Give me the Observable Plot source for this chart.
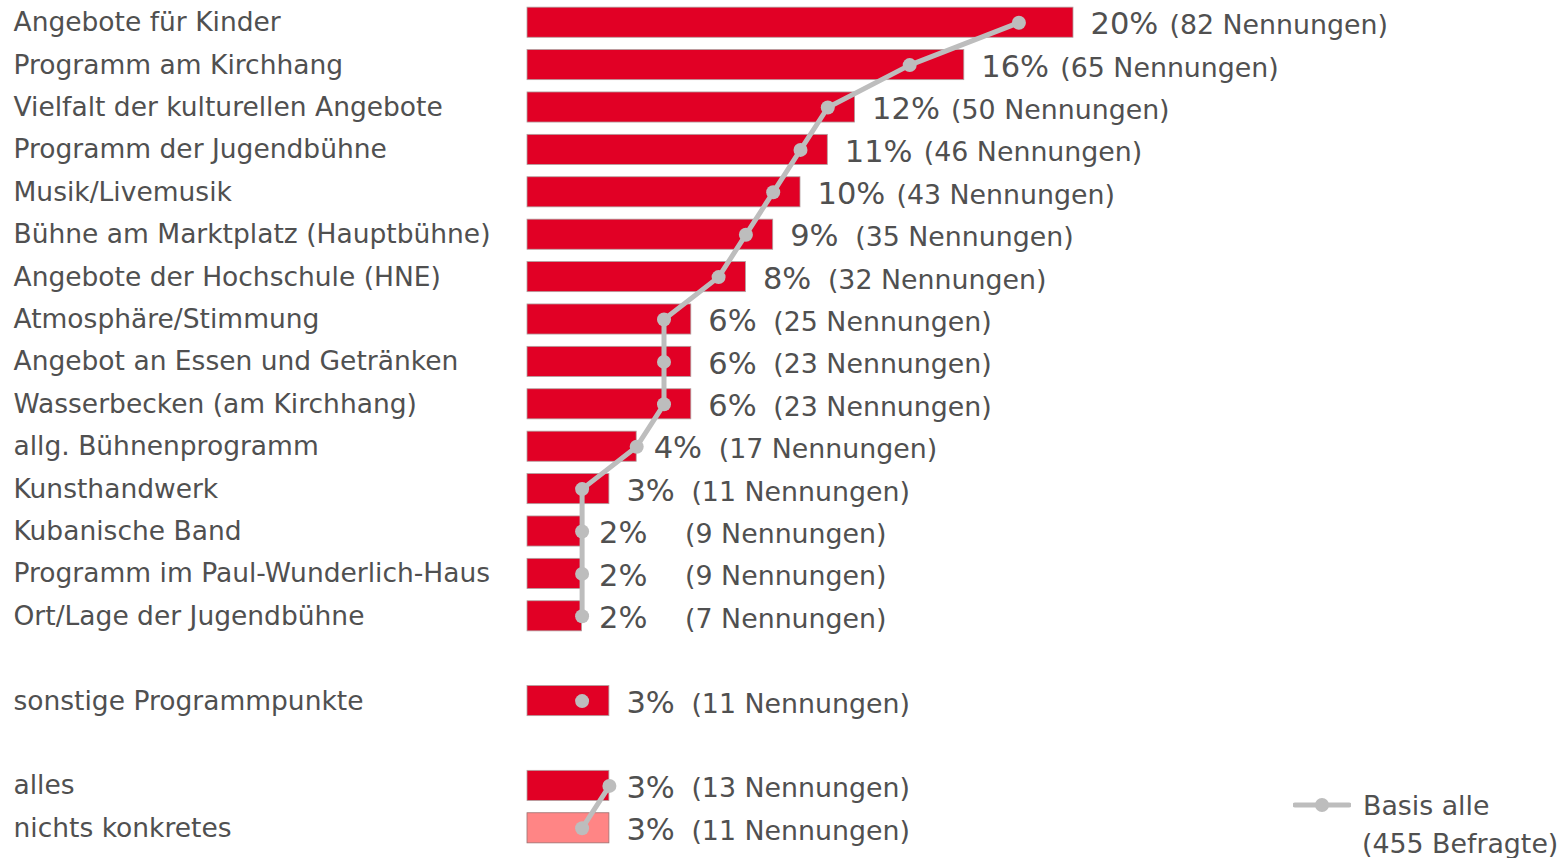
<!DOCTYPE html>
<html>
<head>
<meta charset="utf-8">
<script src="https://cdn.jsdelivr.net/npm/d3@7"></script>
<script src="https://cdn.jsdelivr.net/npm/@observablehq/plot@0.6"></script>
<style>
  html, body { margin: 0; padding: 0; background: #fff; }
  #wrap { position: relative; width: 1557px; height: 858px; overflow: hidden; font-family: "DejaVu Sans", Verdana, sans-serif; }
  #legend { position: absolute; left: 1293px; top: 786px; color: #505050; }
  #legend .row { display: flex; align-items: center; font-size: 26.8px; height: 38px; }
  #legend .sub { font-size: 26.8px; margin-left: 69px; line-height: 28px; margin-top: 6px; white-space: nowrap; }
</style>
</head>
<body>
<div id="wrap">
  <div id="chart"></div>
  <div id="legend">
    <div class="row">
      <svg width="58" height="16" style="margin-right:12px">
        <line x1="2" y1="8" x2="56" y2="8" stroke="#bdbdbd" stroke-width="5" stroke-linecap="round"/>
        <circle cx="29" cy="8" r="7" fill="#bdbdbd"/>
      </svg>
      <span>Basis alle</span>
    </div>
    <div class="sub">(455 Befragte)</div>
  </div>
</div>
<script>
const categories = [
  "Angebote für Kinder",
  "Programm am Kirchhang",
  "Vielfalt der kulturellen Angebote",
  "Programm der Jugendbühne",
  "Musik/Livemusik",
  "Bühne am Marktplatz (Hauptbühne)",
  "Angebote der Hochschule (HNE)",
  "Atmosphäre/Stimmung",
  "Angebot an Essen und Getränken",
  "Wasserbecken (am Kirchhang)",
  "allg. Bühnenprogramm",
  "Kunsthandwerk",
  "Kubanische Band",
  "Programm im Paul-Wunderlich-Haus",
  "Ort/Lage der Jugendbühne",
  "sonstige Programmpunkte",
  "alles",
  "nichts konkretes"
];
const percent   = [20, 16, 12, 11, 10, 9, 8, 6, 6, 6, 4, 3, 2, 2, 2, 3, 3, 3];
const mentions  = [82, 65, 50, 46, 43, 35, 32, 25, 23, 23, 17, 11, 9, 9, 7, 11, 13, 11];
const basisAlle = [18, 14, 11, 10, 9, 8, 7, 5, 5, 5, 4, 2, 2, 2, 2, 2, 3, 2];
const groups = [
  "Programm","Programm","Programm","Programm","Programm","Programm","Programm","Programm",
  "Programm","Programm","Programm","Programm","Programm","Programm","Programm",
  "Sonstige","Gesamt","Gesamt"
];
const highlighted = ["nichts konkretes"];
const gapSlots = [" ", "  "];
const yOrder = [...categories.slice(0, 15), gapSlots[0], categories[15], gapSlots[1], categories[16], categories[17]];

const rows = categories.map((c, i) => ({
  cat: c,
  pct: percent[i],
  n: mentions[i],
  basis: basisAlle[i],
  group: groups[i],
  pctLabel: percent[i] + "%",
  nLabel: "(" + mentions[i] + " Nennungen)",
  light: highlighted.includes(c)
}));

const textColor = "#505050";
const font = "DejaVu Sans, Verdana, sans-serif";

const chart = Plot.plot({
  width: 1557,
  height: 858,
  marginLeft: 527,
  marginRight: 484,
  marginTop: 1,
  marginBottom: 9,
  style: { fontFamily: font, background: "#fff", overflow: "visible" },
  x: { domain: [0, 20], axis: null },
  y: { domain: yOrder, axis: null, paddingInner: 0.29, paddingOuter: 0.145, round: false },
  marks: [
    Plot.barX(rows, {
      x: "pct", y: "cat",
      fill: d => d.light ? "#ff8585" : "#e10025",
      stroke: d => d.light ? "#9a7070" : "#b0a0a0",
      strokeWidth: 0.8
    }),
    Plot.line(rows, {
      x: "basis", y: "cat", z: "group",
      stroke: "#bdbdbd", strokeWidth: 5, curve: "linear"
    }),
    Plot.dot(rows, { x: "basis", y: "cat", r: 7, fill: "#bdbdbd" }),
    Plot.text(rows, {
      x: 0, y: "cat", text: "cat", textAnchor: "start", dx: -514,
      fontSize: 26.5, fill: textColor
    }),
    Plot.text(rows, {
      x: "pct", y: "cat", text: "pctLabel", textAnchor: "start", dx: 17, dy: 2,
      fontSize: 30.5, fill: textColor
    }),
    Plot.text(rows.filter(d => d.pct >= 10), {
      x: "pct", y: "cat", text: "nLabel", textAnchor: "start", dx: 96, dy: 3,
      fontSize: 26.8, fill: textColor
    }),
    Plot.text(rows.filter(d => d.pct < 10 && d.n >= 10), {
      x: "pct", y: "cat", text: "nLabel", textAnchor: "start", dx: 82, dy: 3,
      fontSize: 26.8, fill: textColor
    }),
    Plot.text(rows.filter(d => d.pct < 10 && d.n < 10), {
      x: "pct", y: "cat", text: "nLabel", textAnchor: "start", dx: 103, dy: 3,
      fontSize: 26.8, fill: textColor
    })
  ]
});
document.getElementById("chart").appendChild(chart);
</script>
</body>
</html>
